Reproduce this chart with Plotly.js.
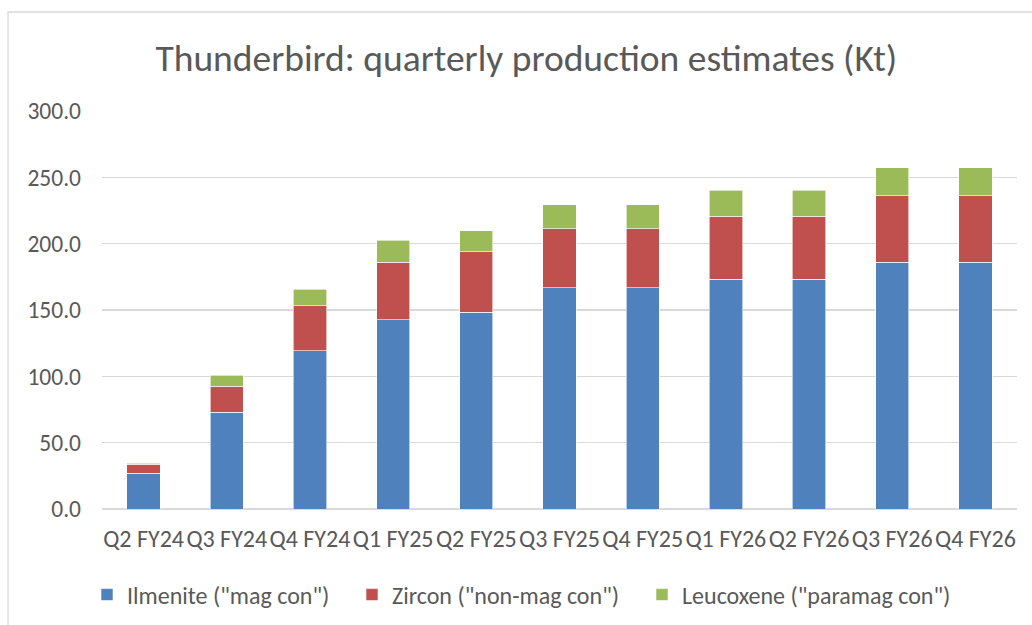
<!DOCTYPE html>
<html>
<head>
<meta charset="utf-8">
<script src="https://cdn.plot.ly/plotly-3.0.1.min.js"></script>
<style>html,body{margin:0;padding:0;background:#fff;}#chart{width:1032px;height:625px;}</style>
</head>
<body>
<div id="chart"></div>
<script>
const categories = ["Q2 FY24","Q3 FY24","Q4 FY24","Q1 FY25","Q2 FY25","Q3 FY25","Q4 FY25","Q1 FY26","Q2 FY26","Q3 FY26","Q4 FY26"];
const ilmenite = [27.0, 73.1, 119.3, 142.6, 148.4, 166.7, 166.7, 173.2, 173.2, 186.0, 186.0];
const zircon = [6.6, 19.3, 33.9, 43.4, 45.4, 44.4, 44.4, 47.5, 47.5, 50.3, 50.3];
const leucoxene = [0.8, 8.3, 12.3, 16.4, 16.1, 18.4, 18.4, 19.6, 19.6, 21.0, 21.0];
const yTicks = [0, 50, 100, 150, 200, 250, 300];
const seriesNames = ['Ilmenite ("mag con")', 'Zircon ("non-mag con")', 'Leucoxene ("paramag con")'];
const colors = ["#4f81bd", "#c0504d", "#9bbb59"];
const legendIds = ["legend", "legend2", "legend3"];

const FONT = "Carlito, 'Liberation Sans Narrow', 'Open Sans', sans-serif";
const GREY = "#595959";

const data = [ilmenite, zircon, leucoxene].map((vals, i) => ({
  type: "bar",
  x: categories,
  y: vals,
  name: seriesNames[i],
  legend: legendIds[i],
  marker: {color: colors[i], line: {color: "#ffffff", width: 0.6}},
  hoverinfo: "x+y+name"
}));

function leg(x) {
  return {
    orientation: "h",
    xref: "container", x: x, xanchor: "left",
    yref: "container", y: 0.048, yanchor: "middle",
    font: {family: FONT, size: 24, color: GREY},
    bgcolor: "rgba(0,0,0,0)",
    itemwidth: 30
  };
}

const layout = {
  width: 1032, height: 625,
  barmode: "stack",
  bargap: 0.6,
  paper_bgcolor: "#ffffff",
  plot_bgcolor: "#ffffff",
  margin: {l: 102, r: 15, t: 111, b: 116},
  font: {family: FONT, color: GREY, size: 24},
  title: {
    text: "Thunderbird: quarterly production estimates (Kt)",
    font: {family: FONT, size: 37.5, color: GREY},
    xref: "container", x: 0.51, xanchor: "center",
    yref: "container", y: 0.907, yanchor: "middle"
  },
  xaxis: {
    type: "category",
    showgrid: false, zeroline: false, showline: false,
    ticks: "", ticklabelstandoff: 13, tickangle: 0,
    tickfont: {family: FONT, size: 24, color: GREY},
    automargin: false
  },
  yaxis: {
    range: [0, 300],
    tickvals: yTicks,
    ticktext: yTicks.map(v => v.toFixed(1)),
    showgrid: true, gridcolor: "#d9d9d9", gridwidth: 1.3,
    zeroline: true, zerolinecolor: "#d9d9d9", zerolinewidth: 1.3,
    showline: false, ticks: "", ticklabelstandoff: 20,
    tickfont: {family: FONT, size: 23.5, color: GREY},
    automargin: false, fixedrange: true
  },
  legend: leg(87 / 1032),
  legend2: leg(352 / 1032),
  legend3: leg(642 / 1032),
  showlegend: true,
  shapes: [{
    type: "rect", xref: "paper", yref: "paper",
    x0: -0.1027, x1: 1.2, y0: -0.5, y1: 1.2487,
    line: {color: "#d9d9d9", width: 1.3}, fillcolor: "rgba(0,0,0,0)", layer: "below"
  }]
};

Plotly.newPlot("chart", data, layout, {displayModeBar: false, staticPlot: true});
</script>
</body>
</html>
